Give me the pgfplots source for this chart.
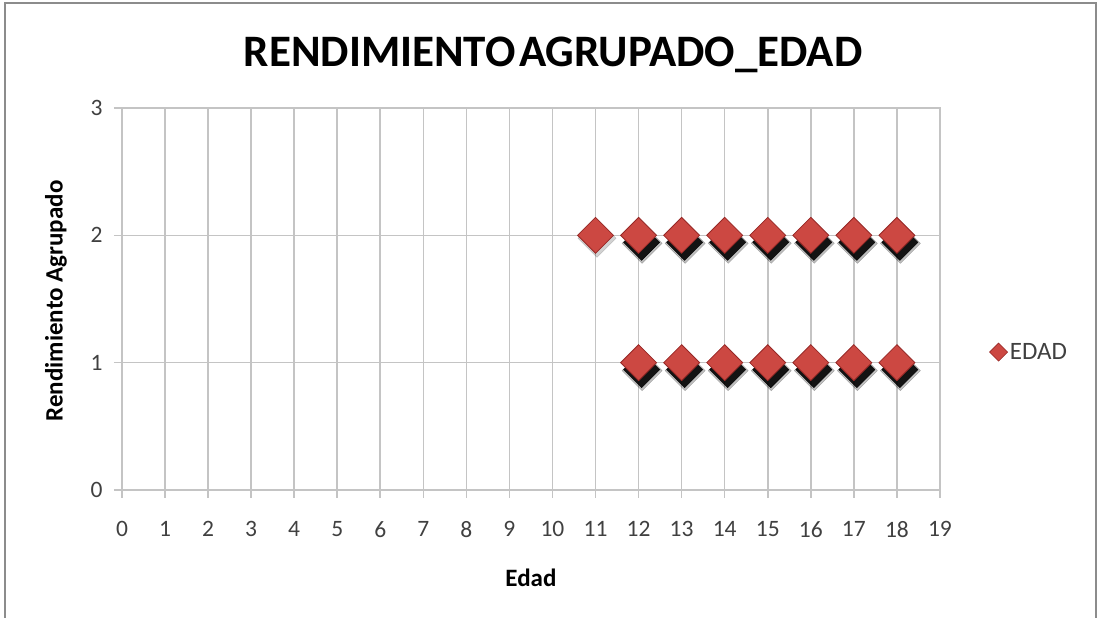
\documentclass[border=0pt]{standalone}
\usepackage{pgfplots}
\pgfplotsset{compat=1.18}
\usepackage{fontspec}
\setmainfont{Carlito}
\definecolor{gridc}{RGB}{196,196,196}
\definecolor{mred}{RGB}{204,72,66}
\definecolor{mredd}{RGB}{150,40,38}
\definecolor{tickc}{RGB}{64,64,64}
\definecolor{framec}{RGB}{140,140,140}
\pgfplotstableread{
x y
12 2
13 2
14 2
15 2
16 2
17 2
18 2
12 1
13 1
14 1
15 1
16 1
17 1
18 1
}\stacked
\pgfplotstableread{
x y
11 2
}\single
\pgfplotstableread{
x y
11 2
12 2
13 2
14 2
15 2
16 2
17 2
18 2
12 1
13 1
14 1
15 1
16 1
17 1
18 1
}\alldata
\begin{document}
\begin{tikzpicture}
\begin{axis}[
  scale only axis, width=818pt, height=382pt,
  xmin=0, xmax=19, ymin=0, ymax=3,
  xtick={0,...,19}, ytick={0,1,2,3},
  grid=major, grid style={gridc, line width=1.6pt},
  axis line style={gridc, line width=1.6pt},
  tick style={gridc, line width=1.6pt},
  tick align=outside, major tick length=8pt,
  xtick pos=bottom, ytick pos=left,
  /pgf/number format/assume math mode=true,
  ticklabel style={font=\fontsize{23.5}{26}\selectfont, text=tickc},
  xticklabel style={yshift=-20pt},
  yticklabel style={xshift=-8pt},
  xlabel={\textbf{Edad}},
  ylabel={\textbf{Rendimiento Agrupado}},
  label style={font=\fontsize{25}{28}\selectfont, text=black},
  xlabel style={at={(rel axis cs:0.5,-0.2304)}, anchor=center},
  ylabel style={at={(rel axis cs:-0.0807,0.495)}, anchor=center},
  title={\textbf{RENDIMIENTO\hspace{0.08em}AGRUPADO\_EDAD}},
  title style={at={(rel axis cs:0.527,1.094)}, anchor=base, font=\fontsize{45}{50}\selectfont},
  legend style={at={(rel axis cs:1.06,0.361)}, anchor=west, draw=none, fill=none,
    font=\fontsize{25}{28}\selectfont, text=tickc, inner sep=0pt},
  legend image code/.code={\draw[fill=mred, draw=mredd, line width=0.6pt, rotate=45] (-6.4pt,-6.4pt) rectangle (6.4pt,6.4pt);},
  clip=false,
]
\addplot[only marks, forget plot, mark=square*, mark size=14.2pt,
  mark options={xshift=3.5pt, yshift=-8pt, rotate=45, fill=black, draw=none, opacity=0.25}] table {\stacked};
\addplot[only marks, forget plot, mark=square*, mark size=12.8pt,
  mark options={xshift=3pt, yshift=-7pt, rotate=45, fill=black, draw=none, opacity=0.9}] table {\stacked};
\addplot[only marks, forget plot, mark=square*, mark size=13.5pt,
  mark options={xshift=1.5pt, yshift=-3pt, rotate=45, fill=black, draw=none, opacity=0.18}] table {\single};
\addplot[only marks, mark=square*, mark size=12.7pt,
  mark options={rotate=45, fill=mred, draw=mredd, line width=0.8pt}] table {\alldata};
\addlegendentry{EDAD}
\coordinate (BL) at (rel axis cs:-0.1491,-0.3351);
\coordinate (TR) at (rel axis cs:1.1932,1.2827);
\coordinate (FL) at (rel axis cs:-0.143,-0.5);
\coordinate (FT) at (rel axis cs:-0.143,1.2749);
\coordinate (FR) at (rel axis cs:1.1907,1.2749);
\coordinate (FB) at (rel axis cs:1.1907,-0.5);
\end{axis}
\pgfresetboundingbox
\path[use as bounding box] (BL) rectangle (TR);
\draw[framec, line width=1.5pt] (FL) -- (FT) -- (FR) -- (FB);
\end{tikzpicture}
\end{document}
